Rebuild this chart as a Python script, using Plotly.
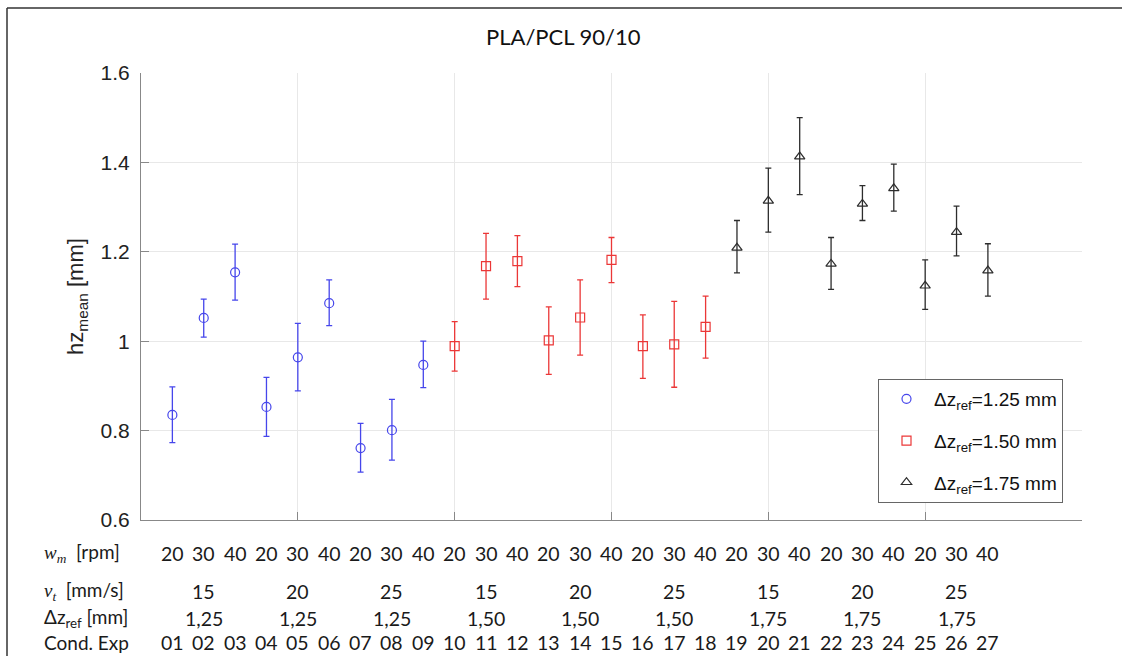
import plotly.graph_objects as go

# ---- data -------------------------------------------------------------
cond_exp = list(range(1, 28))

# mean layer height with upper/lower bounds of the error bars, per Δz_ref group
hz_125 = [0.835, 1.052, 1.154, 0.853, 0.964, 1.085, 0.761, 0.801, 0.947]
up_125 = [0.898, 1.094, 1.217, 0.919, 1.040, 1.137, 0.816, 0.870, 1.000]
lo_125 = [0.773, 1.009, 1.092, 0.787, 0.889, 1.035, 0.707, 0.734, 0.896]

hz_150 = [0.989, 1.168, 1.179, 1.002, 1.053, 1.182, 0.989, 0.993, 1.032]
up_150 = [1.044, 1.241, 1.236, 1.077, 1.137, 1.232, 1.059, 1.089, 1.101]
lo_150 = [0.933, 1.094, 1.122, 0.926, 0.969, 1.131, 0.917, 0.897, 0.962]

hz_175 = [1.209, 1.314, 1.413, 1.173, 1.307, 1.342, 1.124, 1.244, 1.158]
up_175 = [1.270, 1.387, 1.500, 1.232, 1.348, 1.396, 1.182, 1.302, 1.218]
lo_175 = [1.153, 1.244, 1.328, 1.116, 1.270, 1.291, 1.071, 1.191, 1.101]

series_names = ["Δz<sub>ref</sub>=1.25 mm", "Δz<sub>ref</sub>=1.50 mm", "Δz<sub>ref</sub>=1.75 mm"]

# table rows under the axis
wm_rpm = [20, 30, 40] * 9
vt_mms = [15, 20, 25] * 3
dz_ref = ["1,25"] * 3 + ["1,50"] * 3 + ["1,75"] * 3
cond_labels = [f"{c:02d}" for c in cond_exp]

y_ticks = [0.6, 0.8, 1.0, 1.2, 1.4, 1.6]
y_ticktext = ["0.6", "0.8", "1", "1.2", "1.4", "1.6"]

# ---- styling ----------------------------------------------------------
W, H = 1122, 656
ML, MR, MT, MB = 141, 40, 73, 136
colors = ["rgb(70,70,235)", "rgb(235,55,55)", "rgb(45,45,45)"]
symbols = ["circle-open", "square-open", "triangle-up-open"]
AX_FONT = "Liberation Sans, Arial, sans-serif"
TAB_FONT = "Lato, Open Sans, sans-serif"

fig = go.Figure()

groups = [(hz_125, up_125, lo_125), (hz_150, up_150, lo_150), (hz_175, up_175, lo_175)]
for g, (hz, up, lo) in enumerate(groups):
    xs = cond_exp[g * 9:(g + 1) * 9]
    fig.add_trace(go.Scatter(
        x=xs, y=hz, mode="markers", name=series_names[g],
        legendgroup=f"g{g}",
        marker=dict(symbol=symbols[g], size=9, color=colors[g],
                    line=dict(width=1.2, color=colors[g])),
        error_y=dict(type="data", symmetric=False,
                     array=[u - m for u, m in zip(up, hz)],
                     arrayminus=[m - l for m, l in zip(hz, lo)],
                     color=colors[g], thickness=1.3, width=3),
    ))

# ---- table under the x axis -------------------------------------------
plot_h = H - MT - MB
plot_w = W - ML - MR


def py_to_paper(py):
    return (H - MB - py) / plot_h


def px_to_paper(px):
    return (px - ML) / plot_w


row_y = {"wm": py_to_paper(553), "vt": py_to_paper(591), "dz": py_to_paper(618), "ce": py_to_paper(642)}
label_x = px_to_paper(42)
tab_font = dict(family=TAB_FONT, size=19.5, color="#1a1a1a")
lab_font = dict(family=TAB_FONT, size=19, color="#1a1a1a")

annotations = []
for i, c in enumerate(cond_exp):
    annotations.append(dict(x=c, y=row_y["wm"], xref="x", yref="paper", text=str(wm_rpm[i]),
                            showarrow=False, font=tab_font, xanchor="center", yanchor="middle"))
    annotations.append(dict(x=c, y=row_y["ce"], xref="x", yref="paper", text=cond_labels[i],
                            showarrow=False, font=tab_font, xanchor="center", yanchor="middle"))
for k in range(9):
    xc = cond_exp[3 * k + 1]
    annotations.append(dict(x=xc, y=row_y["vt"], xref="x", yref="paper", text=str(vt_mms[k]),
                            showarrow=False, font=tab_font, xanchor="center", yanchor="middle"))
    annotations.append(dict(x=xc, y=row_y["dz"], xref="x", yref="paper", text=dz_ref[k],
                            showarrow=False, font=tab_font, xanchor="center", yanchor="middle"))

serif_i = "<span style=\"font-family:'Liberation Serif', serif\"><i>{}</i></span>"
row_labels = {
    "wm": serif_i.format("w<sub>m</sub>") + "  [rpm]",
    "vt": serif_i.format("v<sub>t</sub>") + "  [mm/s]",
    "dz": "Δz<sub>ref</sub> [mm]",
    "ce": "Cond. Exp",
}
for key, txt in row_labels.items():
    annotations.append(dict(x=label_x, y=row_y[key], xref="paper", yref="paper", text=txt,
                            showarrow=False, font=lab_font, xanchor="left", yanchor="middle"))

# title
annotations.append(dict(x=px_to_paper(563), y=py_to_paper(37), xref="paper", yref="paper",
                        text="PLA/PCL 90/10", showarrow=False,
                        font=dict(family=TAB_FONT, size=22, color="#111"),
                        xanchor="center", yanchor="middle"))

# outer frame (top and left edges)
shapes = [
    dict(type="line", xref="paper", yref="paper", x0=px_to_paper(7), x1=px_to_paper(W + 5),
         y0=py_to_paper(8), y1=py_to_paper(8), line=dict(color="#333", width=1.5)),
    dict(type="line", xref="paper", yref="paper", x0=px_to_paper(7), x1=px_to_paper(7),
         y0=py_to_paper(8), y1=py_to_paper(H + 5), line=dict(color="#333", width=1.5)),
]

fig.update_layout(
    width=W, height=H, autosize=False,
    margin=dict(l=ML, r=MR, t=MT, b=MB),
    paper_bgcolor="white", plot_bgcolor="white",
    showlegend=True,
    legend=dict(x=px_to_paper(1063), y=py_to_paper(503), xanchor="right", yanchor="bottom",
                bgcolor="white", bordercolor="#666", borderwidth=1,
                font=dict(family=AX_FONT, size=19, color="#111"),
                itemwidth=45, tracegroupgap=14),
    annotations=annotations,
    shapes=shapes,
    xaxis=dict(range=[0, 30], tickvals=[0, 5, 10, 15, 20, 25, 30], showticklabels=False,
               ticks="inside", ticklen=8, tickcolor="#888", showline=True, linecolor="#888",
               linewidth=1, showgrid=True, gridcolor="#e8e8e8", gridwidth=1, zeroline=False,
               mirror=False),
    yaxis=dict(range=[0.6, 1.6], tickvals=y_ticks, ticktext=y_ticktext,
               ticks="inside", ticklen=8, tickcolor="#888", showline=True, linecolor="#888",
               linewidth=1, showgrid=True, gridcolor="#e8e8e8", gridwidth=1, zeroline=False,
               tickfont=dict(family=AX_FONT, size=21, color="#222"),
               ticklabelstandoff=6,
               title=dict(text="hz<sub>mean</sub> [mm]", standoff=10,
                          font=dict(family=AX_FONT, size=22, color="#222")),
               automargin=False),
)

fig.write_html("out.html")
